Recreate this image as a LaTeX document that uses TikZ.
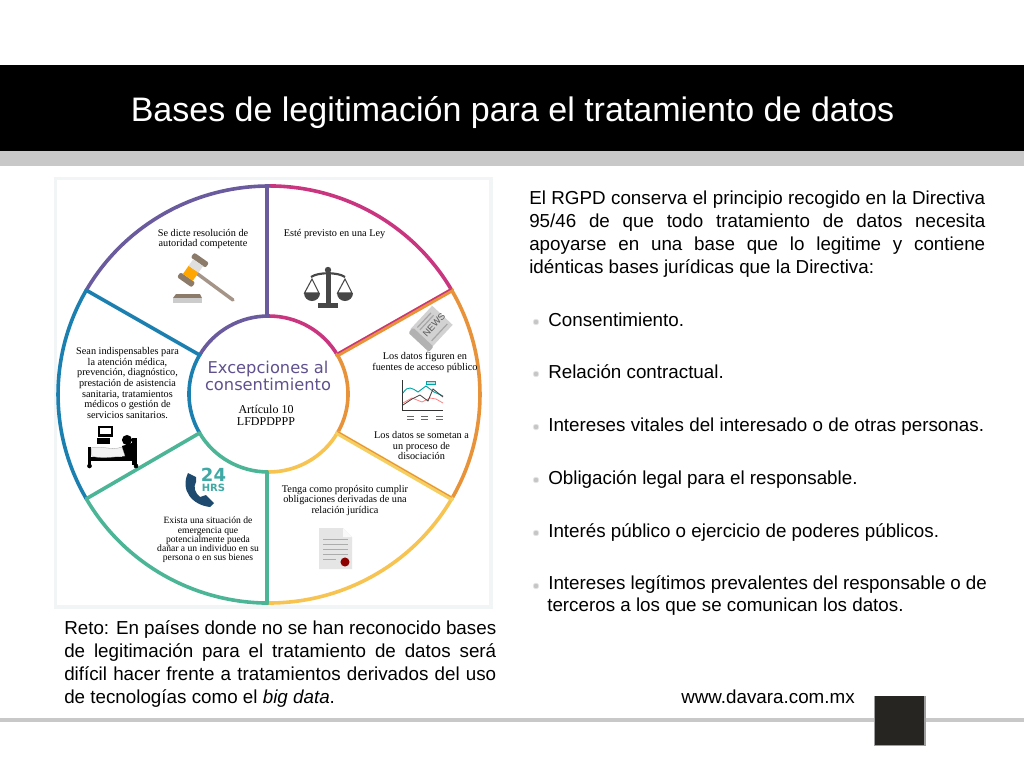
\documentclass[tikz,border=0pt]{standalone}
\usepackage{fontspec}
\setmainfont{Liberation Sans}
\newfontfamily\wheelserif{Liberation Serif}
\newfontfamily\wheelsans{DejaVu Sans}
\definecolor{cpurple}{HTML}{6A5A9E}
\definecolor{cmagenta}{HTML}{C9357F}
\definecolor{corange}{HTML}{E8923A}
\definecolor{cyellow}{HTML}{F5CF5F}
\definecolor{cgreen}{HTML}{4BB596}
\definecolor{cblue}{HTML}{1B7FB0}
\definecolor{bandgray}{HTML}{C8C8C8}
\definecolor{framegray}{HTML}{F2F5F6}
\definecolor{iconbrown}{HTML}{8D7B6A}
\definecolor{navy}{HTML}{1D4A6E}
\definecolor{teal24}{HTML}{3FA9A5}
\definecolor{squaredark}{HTML}{262522}
\tikzset{
  ring/.style={line width=2.7pt,line cap=round},
  wheeltext/.style={inner sep=0pt,align=center,text=black,font=\wheelserif\fontsize{7.7}{7.9}\selectfont},
  wheelsmall/.style={inner sep=0pt,align=center,text=black,font=\wheelserif\fontsize{7.2}{6.9}\selectfont},
  body/.style={inner sep=0pt,anchor=base west,font=\fontsize{14.1}{17.25}\selectfont},
  bullet/.style={circle,inner sep=0pt,minimum size=4.2pt,fill=gray!45,draw=gray!20,line width=.5pt},
  outerarc/.style={x radius=158.25pt,y radius=156.4pt},
  innerarc/.style={x radius=59.6pt,y radius=58.5pt}
}
\newcommand{\jl}[1]{\makebox[342pt][s]{#1}}
\newcommand{\jc}[1]{\makebox[324pt][s]{#1}}
\begin{document}
\begin{tikzpicture}[x=0.75pt,y=-0.75pt]
\useasboundingbox (0,0) rectangle (1024,768);
\fill[white] (0,0) rectangle (1024,768);
% header
\fill[black] (0,65) rectangle (1024,151);
\fill[bandgray] (0,151) rectangle (1024,166);
\node[inner sep=0pt,anchor=base west,text=white,font=\fontsize{25.5}{28}\selectfont] (title) at (130.5,121) {Bases de legitimación para el tratamiento de datos};
% footer
\fill[bandgray] (0,717.5) rectangle (1024,722);
\fill[gray!75] (873.5,695.5) rectangle (926,746);
\fill[squaredark] (875,696) rectangle (924,744.5);
% picture frame
\draw[framegray,line width=2.6pt] (55.5,178.5) rectangle (491,607);
% wheel coordinates
\coordinate (wT) at (269,186);
\coordinate (wB) at (269,603);
\coordinate (wUL) at (86.3,290.2);
\coordinate (wLL) at (86.3,498.8);
\coordinate (wUR) at (451.7,290.2);
\coordinate (wLR) at (451.7,498.8);
\coordinate (iT) at (268.5,316);
\coordinate (iB) at (268.5,472);
\coordinate (iUL) at (199.6,355);
\coordinate (iLL) at (199.6,433);
\coordinate (iUR) at (337.4,355);
\coordinate (iLR) at (337.4,433);
\coordinate (sT) at (267,186);
\coordinate (sB) at (267,603);
\coordinate (sIT) at (267,316);
\coordinate (sIB) at (267,472);
% arcs
\draw[ring,cmagenta] (wUR) arc[start angle=30,end angle=90,outerarc];
\draw[ring,cpurple] (wT) arc[start angle=90,end angle=150,outerarc];
\draw[ring,cblue] (wUL) arc[start angle=150,end angle=210,outerarc];
\draw[ring,cgreen] (wLL) arc[start angle=210,end angle=270,outerarc];
\draw[ring,cyellow!85!orange] (wB) arc[start angle=270,end angle=330,outerarc];
\draw[ring,corange] (wLR) arc[start angle=330,end angle=390,outerarc];
\draw[ring,cmagenta] (iUR) arc[start angle=30,end angle=90,innerarc];
\draw[ring,cpurple] (iT) arc[start angle=90,end angle=150,innerarc];
\draw[ring,cblue] (iUL) arc[start angle=150,end angle=210,innerarc];
\draw[ring,cgreen] (iLL) arc[start angle=210,end angle=270,innerarc];
\draw[ring,cyellow!85!orange] (iB) arc[start angle=270,end angle=330,innerarc];
\draw[ring,corange] (iLR) arc[start angle=330,end angle=390,innerarc];
% spokes
\draw[ring,cpurple] (sT) -- (sIT);
\draw[ring,cgreen] (sIB) -- (sB);
\draw[ring,cblue] (wUL) -- (iUL);
\draw[ring,cgreen] (wLL) -- (iLL);
\draw[ring,corange,line width=3.4pt] (wUR) -- (iUR);
\draw[cmagenta,line width=1.1pt] ([yshift=1.3pt]wUR) -- ([yshift=1.3pt]iUR);
\draw[ring,cyellow,line width=3.4pt] (wLR) -- (iLR);
\draw[corange,line width=.8pt] ([yshift=1.2pt]wLR) -- ([yshift=1.2pt]iLR);
% centre
\node[inner sep=0pt,align=center,text=cpurple!90!black,font=\wheelsans\fontsize{12.2}{13}\selectfont] (centre) at (268,376) {Excepciones al\\consentimiento};
\node[inner sep=0pt,align=center,font=\wheelserif\fontsize{9}{9.2}\selectfont] (art) at (266,415) {Artículo 10\\LFDPDPPP};
% texts
\node[wheeltext] (t1) at (203,239) {Se dicte resolución de\\autoridad competente};
\node[wheeltext] (t2) at (334.5,234) {Esté previsto en una Ley};
\node[wheeltext] (t3) at (425,362.5) {Los datos figuren en\\fuentes de acceso público};
\node[wheeltext] (t4) at (421.5,445.5) {Los datos se sometan a\\un proceso de\\disociación};
\node[wheeltext] (t5) at (345,500.5) {Tenga como propósito cumplir\\obligaciones derivadas de una\\relación jurídica};
\node[wheelsmall] (t6) at (208,540) {Exista una situación de\\emergencia que\\potencialmente pueda\\dañar a un individuo en su\\persona o en sus bienes};
\node[wheeltext] (t7) at (127.5,383) {Sean indispensables para\\la atención médica,\\prevención, diagnóstico,\\prestación de asistencia\\sanitaria, tratamientos\\médicos o gestión de\\servicios sanitarios.};
% gavel
\draw[iconbrown!80!white,line width=2.6pt,line cap=round] (195,272) -- (233,300);
\begin{scope}[shift={(193,270)},rotate=55]
\fill[iconbrown,rounded corners=1.5pt] (-15,-9) rectangle (-9,9);
\fill[iconbrown,rounded corners=1.5pt] (9,-9) rectangle (15,9);
\fill[orange!70!yellow] (-9,-6) rectangle (1,6);
\fill[gray!25] (1,-6) rectangle (9,6);
\end{scope}
\fill[iconbrown] (176,294) -- (200,294) -- (202,298) -- (173,298) -- cycle;
\fill[gray!40] (173,298) rectangle (202,303);
% scales
\fill[gray!30!black!85] (325.5,272) rectangle (330.5,303);
\fill[gray!30!black!85] (318,303) -- (338,303) -- (338,308) -- (318,308) -- cycle;
\fill[gray!30!black!85] (328,270) circle[radius=2.4pt];
\draw[gray!30!black!85,line width=1.6pt] (311,277) .. controls (318,272) and (338,272) .. (345,277);
\draw[gray!30!black!85,line width=.8pt] (304.5,293) -- (312,279) -- (319,293) -- cycle;
\draw[gray!30!black!85,line width=.8pt] (337.5,293) -- (345,279) -- (352,293) -- cycle;
\fill[gray!30!black!85] (304,293) arc[start angle=180,end angle=360,radius=6pt];
\fill[gray!30!black!85] (337,293) arc[start angle=180,end angle=360,radius=6pt];
% newspaper
\begin{scope}[shift={(431.5,327)},rotate=47]
\fill[gray!35] (-16,-14) rectangle (16,14);
\fill[gray!60,rounded corners=1pt] (-20,-13) rectangle (-13,15);
\draw[gray!70,line width=.9pt] (-10,-10) -- (10,-10) (-10,-6.5) -- (10,-6.5) (-10,9.5) -- (13,9.5);
\end{scope}
\node[rotate=47,inner sep=0pt,text=gray!70!black,font=\fontsize{7}{7}\selectfont] (news) at (434,325) {NEWS};
% chart
\draw[black!80,line width=.6pt] (402,380) -- (402,410) -- (443,410);
\draw[teal!70!cyan,line width=.7pt] (403,393) .. controls (408,385) and (412,388) .. (418,392) -- (426,386) -- (434,392) -- (443,396);
\draw[red!50,line width=.6pt] (403,403) -- (412,398) -- (422,402) -- (430,398) -- (436,399) -- (443,403);
\draw[black!75,line width=.6pt] (403,405) -- (412,399) -- (420,395) -- (428,401) -- (433,389) -- (443,397);
\draw[teal!70!cyan,line width=.5pt,fill=teal!25] (426,381) rectangle (435,384.5);
\foreach \x in {410,424,439}{\draw[black!60,line width=.7pt] (\x-3,416) -- (\x+4,416) (\x-3,419) -- (\x+4,419);}
% bed
\fill[black] (98,426) rectangle (113,437);
\fill[white] (100,428) rectangle (111,434);
\fill[black] (97,438) rectangle (110,444);
\fill[black] (132,438) rectangle (137,465);
\fill[black] (88,447) rectangle (91,466);
\fill[black] (133.5,460) rectangle (136.5,466);
\fill[black] (88,457) rectangle (137,461);
\fill[black] (127,440) circle[radius=3.8pt];
\fill[black] (122,446) -- (132,443) -- (132,458) -- (122,457) -- cycle;
\fill[gray!10,draw=black!40,line width=.2pt] (91,448) .. controls (100,445) and (112,451) .. (122,447) -- (125,456) .. controls (112,457) and (100,459) .. (92,456) -- cycle;
\fill[black,draw=black] (89.5,466) circle[radius=1.5pt] (136,466) circle[radius=1.5pt];
% phone
\fill[navy] (188,473) .. controls (180,490) and (192,505) .. (210,507) -- (214,503) -- (206,495) -- (200,497) .. controls (195,493) and (193,487) .. (196,482) -- (196,477) -- cycle;
\node[inner sep=0pt,text=teal24,font=\wheelsans\bfseries\fontsize{13.5}{14}\selectfont] (h24) at (213.5,475) {24};
\node[inner sep=0pt,text=teal24,font=\wheelsans\bfseries\fontsize{7.5}{8}\selectfont] (hrs) at (213.5,488) {HRS};
% certificate
\fill[gray!20] (319,528) -- (343,528) -- (352,537) -- (352,569) -- (319,569) -- cycle;
\fill[gray!5] (343,528) -- (352,537) -- (343,537) -- cycle;
\foreach \y in {539,544,549,554}{\draw[gray!65,line width=.6pt] (323,\y) -- (348,\y);}
\draw[gray!65,line width=.6pt] (323,559) -- (336,559);
\fill[red!55!black] (345,562) circle[radius=3.4pt];
% left caption
\node[inner sep=0pt,anchor=north west,align=left,font=\fontsize{14.1}{17.25}\selectfont] (reto) at (64,620.5) {\jc{Reto: En países donde no se han reconocido bases}\\\jc{de legitimación para el tratamiento de datos será}\\\jc{difícil hacer frente a tratamientos derivados del uso}\\de tecnologías como el \emph{big data}.};
% right paragraph
\node[inner sep=0pt,anchor=north west,align=left,font=\fontsize{14.1}{17.25}\selectfont] (intro) at (529,190.5) {\jl{El RGPD conserva el principio recogido en la Directiva}\\\jl{95/46 de que todo tratamiento de datos necesita}\\\jl{apoyarse en una base que lo legitime y contiene}\\idénticas bases jurídicas que la Directiva:};
% bullets
\node[bullet] (b1) at (536,322) {};
\node[bullet] (b2) at (536,374) {};
\node[bullet] (b3) at (536,427) {};
\node[bullet] (b4) at (536,480) {};
\node[bullet] (b5) at (536,533) {};
\node[bullet] (b6) at (536,586) {};
\node[body] (i1) at (548,326) {Consentimiento.};
\node[body] (i2) at (548,378) {Relación contractual.};
\node[body] (i3) at (548,431) {Intereses vitales del interesado o de otras personas.};
\node[body] (i4) at (548,484) {Obligación legal para el responsable.};
\node[body] (i5) at (548,537) {Interés público o ejercicio de poderes públicos.};
\node[body] (i6) at (548,589) {\makebox[329pt][s]{Intereses legítimos prevalentes del responsable o de}};
\node[body] (i7) at (547,611) {terceros a los que se comunican los datos.};
\node[body] (web) at (681,703) {www.davara.com.mx};
\end{tikzpicture}
\end{document}
